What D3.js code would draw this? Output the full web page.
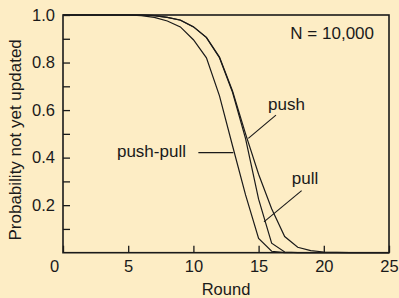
<!DOCTYPE html>
<html>
<head>
<script src="https://cdn.jsdelivr.net/npm/d3@7"></script>
<style>
  body { margin: 0; background: #fdedc5; }
  svg { display: block; font-family: "Liberation Sans", Arial, sans-serif; }
  text { fill: #1a1a1a; }
</style>
</head>
<body>
<svg width="399" height="298"></svg>
<script>
// rounds 0..25
const rounds = [0,1,2,3,4,5,6,7,8,9,10,11,12,13,14,15,16,17,18,19,20,21,22,23,24,25];
const pushPull = [1,1,1,1,1,1,0.997,0.99,0.975,0.95,0.896,0.82,0.66,0.45,0.243,0.06,0.006,0,0,0,0,0,0,0,0,0];
const pull     = [1,1,1,1,1,1,1,0.997,0.99,0.978,0.95,0.905,0.82,0.675,0.48,0.225,0.04,0.003,0,0,0,0,0,0,0,0];
const push     = [1,1,1,1,1,1,1,0.997,0.99,0.979,0.951,0.906,0.823,0.68,0.5,0.33,0.185,0.068,0.023,0.009,0.003,0.001,0,0,0,0];

const xTicks = [0, 5, 10, 15, 20, 25];
const yTicks = [0.2, 0.4, 0.6, 0.8, 1.0];
const yMinor = [0.1, 0.3, 0.5, 0.7, 0.9];

// labels: [text, round, prob, anchor]
const labels = [
  ["push", 15.72, 0.600, "start"],
  ["pull", 17.54, 0.288, "start"],
  ["push-pull", 9.43, 0.404, "end"],
  ["N = 10,000", 23.85, 0.898, "end"]
];
// pointer lines: [r1, p1, r2, p2]
const pointers = [
  [16.33, 0.579, 14.21, 0.481],
  [18.3, 0.261, 15.41, 0.130],
  [10.38, 0.421, 13.06, 0.421]
];

const svg = d3.select("svg");
const m = {left: 63, right: 10, top: 15, bottom: 45.3};
const W = 399, H = 298;

const x = d3.scaleLinear().domain([0, 25]).range([m.left, W - m.right]);
const y = d3.scaleLinear().domain([0, 1]).range([H - m.bottom, m.top]);

const line = d3.line()
  .x((d, i) => x(rounds[i]))
  .y(d => y(d));

[pushPull, pull, push].forEach(s => {
  svg.append("path")
    .attr("d", line(s))
    .attr("fill", "none")
    .attr("stroke", "#1a1a1a")
    .attr("stroke-width", 1.2);
});

// frame
svg.append("rect")
  .attr("x", x(0)).attr("y", y(1))
  .attr("width", x(25) - x(0)).attr("height", y(0) - y(1))
  .attr("fill", "none").attr("stroke", "#1a1a1a").attr("stroke-width", 1.6);

const xAxis = svg.append("g")
  .attr("transform", `translate(0,${y(0)})`)
  .call(d3.axisBottom(x).tickValues(xTicks).tickSize(-7).tickPadding(7.5));
xAxis.selectAll("text").filter(d => d === 0).attr("x", -9);

const yAxis = svg.append("g")
  .attr("transform", `translate(${x(0)},0)`)
  .call(d3.axisLeft(y).tickValues(yTicks).tickSize(-7).tickPadding(8).tickFormat(d3.format(".1f")));

const yAxisMinor = svg.append("g")
  .attr("transform", `translate(${x(0)},0)`)
  .call(d3.axisLeft(y).tickValues(yMinor).tickSize(-7).tickFormat(""));

[xAxis, yAxis, yAxisMinor].forEach(g => {
  g.select(".domain").remove();
  g.selectAll("line").attr("stroke", "#1a1a1a").attr("stroke-width", 1.3);
  g.selectAll("text").attr("font-size", 16.5).attr("font-family", null).attr("fill", "#1a1a1a");
});

svg.append("text")
  .attr("x", (x(0) + x(25)) / 2).attr("y", 295)
  .attr("text-anchor", "middle").attr("font-size", 16.5)
  .text("Round");

svg.append("text")
  .attr("transform", `translate(20.5,${(y(0) + y(1)) / 2 + 6}) rotate(-90)`)
  .attr("text-anchor", "middle").attr("font-size", 17)
  .text("Probability not yet updated");

labels.forEach(([t, r, p, a]) => {
  svg.append("text")
    .attr("x", x(r)).attr("y", y(p))
    .attr("text-anchor", a).attr("font-size", 17)
    .text(t);
});

pointers.forEach(([r1, p1, r2, p2]) => {
  svg.append("line")
    .attr("x1", x(r1)).attr("y1", y(p1))
    .attr("x2", x(r2)).attr("y2", y(p2))
    .attr("stroke", "#1a1a1a").attr("stroke-width", 1.1);
});
</script>
</body>
</html>
